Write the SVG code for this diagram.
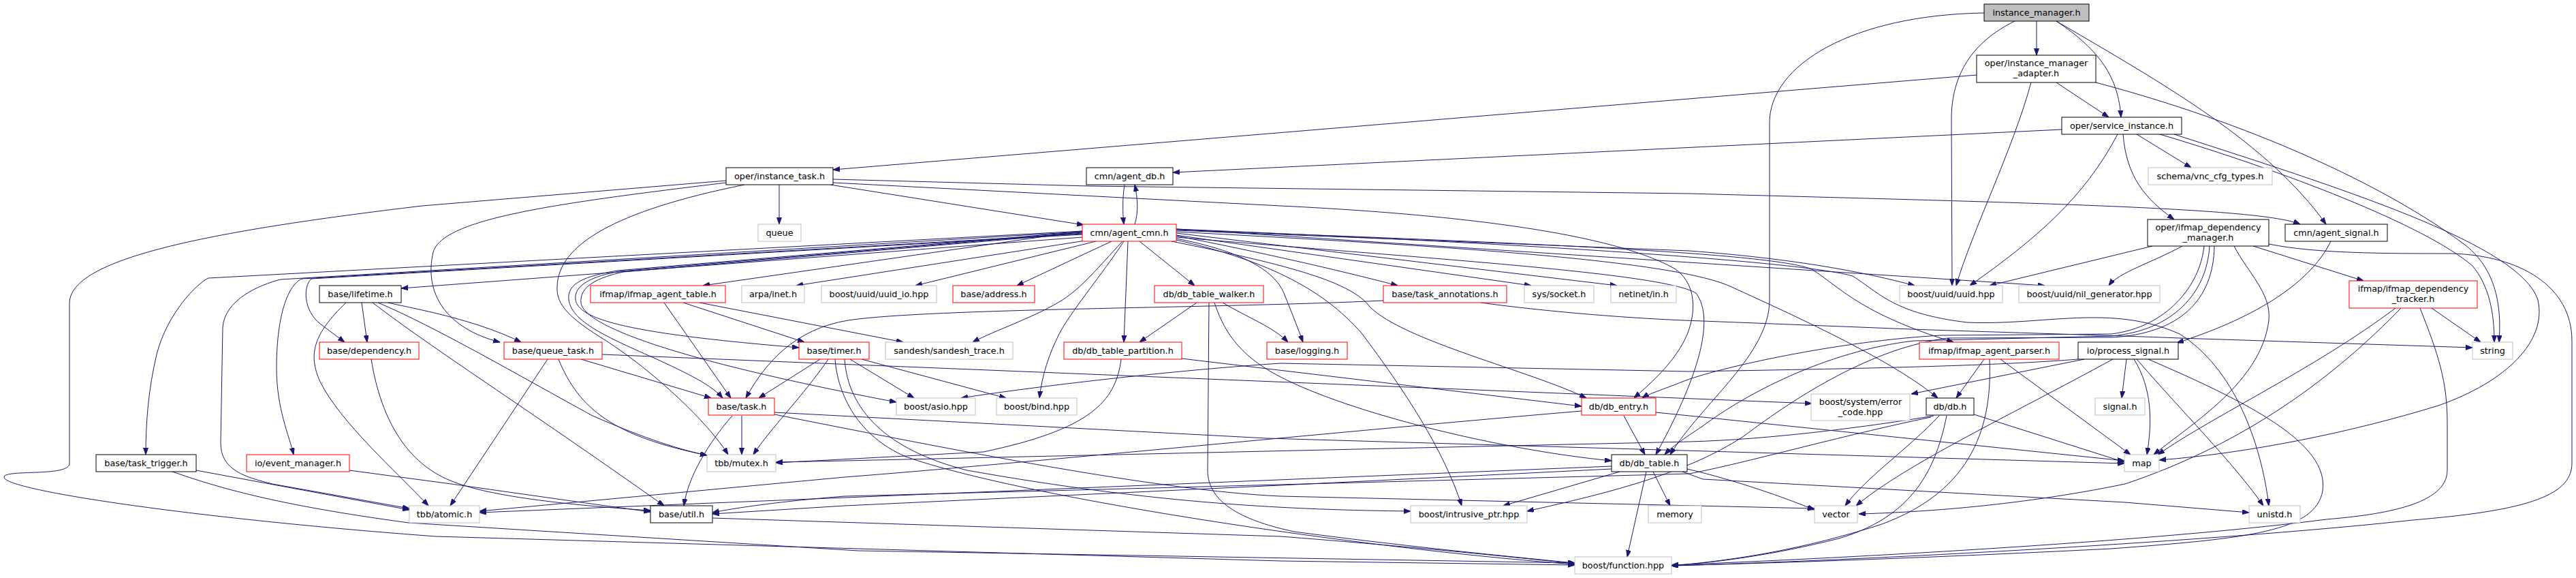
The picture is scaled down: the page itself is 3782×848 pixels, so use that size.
<svg xmlns="http://www.w3.org/2000/svg" width="3782" height="848" viewBox="0 0 3782 848">
<style>
.e{fill:none;stroke:#191970;stroke-width:1;marker-end:url(#a)}
.n rect{fill:#fff;stroke-width:1}
.blk rect{stroke:#000}
.red rect{stroke:#ff0000}
.ext rect{stroke:#bfbfbf}
.root rect{fill:#bfbfbf;stroke:#000}
text{font-family:"DejaVu Sans","Liberation Sans",sans-serif;font-size:12.8px;fill:#000;text-anchor:middle}
</style>
<defs>
<marker id="a" markerWidth="10" markerHeight="8" refX="10" refY="3.5" orient="auto" markerUnits="userSpaceOnUse">
<path d="M0,0 L10,3.5 L0,7 z" fill="#191970" stroke="#191970" stroke-width="1"/>
</marker>
</defs>
<rect width="3782" height="848" fill="#fff"/>
<g id="edges">
<path class="e" d="M2990,31 L2990,81"/>
<path class="e" d="M2958,31 C2895,62 2865,110 2865,175 L2866,419"/>
<path class="e" d="M3019,31 C3085,75 3110,115 3114,172"/>
<path class="e" d="M3019,31 C3180,125 3330,210 3415,329"/>
<path class="e" d="M2913,19 C2720,22 2598,95 2598,180 L2598,440 C2598,520 2500,590 2452,667"/>
<path class="e" d="M2902,110 L1223,249"/>
<path class="e" d="M2982,121 C2955,220 2895,340 2872,419"/>
<path class="e" d="M3019,121 L3096,172"/>
<path class="e" d="M3077,121 C3300,180 3500,270 3620,360 C3670,400 3672,460 3669,502"/>
<path class="e" d="M3027,190 L1722,253"/>
<path class="e" d="M3109,197 C3060,290 2990,350 2892,419"/>
<path class="e" d="M3137,197 L3217,246"/>
<path class="e" d="M3117,197 C3122,260 3150,292 3192,322"/>
<path class="e" d="M3171,197 C3350,250 3560,330 3630,390 C3655,420 3662,460 3662,502"/>
<path class="e" d="M3192,197 C3450,280 3700,360 3726,440 C3740,500 3680,560 3580,595 C3450,635 3300,665 3170,675"/>
<path class="e" d="M1144,271 L1144,329"/>
<path class="e" d="M1219,271 L1591,330"/>
<path class="e" d="M1223,263 L1600,273 L2480,284 C3000,298 3320,305 3377,329"/>
<path class="e" d="M1223,268 L1880,302 C2250,320 2400,360 2460,395 C2495,420 2490,470 2470,505 C2450,540 2420,565 2399,584"/>
<path class="e" d="M1066,268 C820,298 650,320 636,370 C622,430 655,482 734,502"/>
<path class="e" d="M1066,265 L620,302 C300,340 102,380 102,445 L102,680 C102,700 6,688 6,700 C6,720 300,762 640,787 L1880,823 L2312,829"/>
<path class="e" d="M1093,271 C900,310 820,360 818,420 C816,448 838,468 890,500 C960,545 1040,620 1069,667"/>
<path class="e" d="M1651,271 C1648,290 1648,310 1650,329"/>
<path class="e" d="M1666,329 C1672,310 1670,290 1666,271"/>
<path class="e" d="M1589,348 L589,423"/>
<path class="e" d="M1589,339 L306,408 C290,415 245,460 230,520 C218,570 214,620 214,667"/>
<path class="e" d="M1589,343 L443,409 C420,420 406,470 406,540 C406,600 425,640 431,667"/>
<path class="e" d="M1589,340 L412,410 C380,418 330,440 327,480 L324,650 C324,690 360,700 400,710 L601,746"/>
<path class="e" d="M1589,344 L457,409 C445,420 445,455 470,475 L506,502"/>
<path class="e" d="M1589,339 L1032,419"/>
<path class="e" d="M1600,352 L1169,419"/>
<path class="e" d="M1609,354 L1344,419"/>
<path class="e" d="M1632,354 L1493,419"/>
<path class="e" d="M1648,354 C1610,395 1590,420 1560,440 C1520,465 1460,485 1428,502"/>
<path class="e" d="M1650,354 C1620,400 1570,460 1555,490 C1540,520 1530,550 1526,584"/>
<path class="e" d="M1656,354 L1650,502"/>
<path class="e" d="M1673,354 L1754,419"/>
<path class="e" d="M1727,346 C1850,370 1960,395 2052,419"/>
<path class="e" d="M1727,345 L2248,419"/>
<path class="e" d="M1727,342 L2374,419"/>
<path class="e" d="M1727,338 L2480,368 C2640,380 2740,400 2811,419"/>
<path class="e" d="M1727,336 L3002,419"/>
<path class="e" d="M1727,350 C1820,368 1870,395 1885,430 C1897,460 1905,480 1913,502"/>
<path class="e" d="M1727,352 C1850,380 1940,420 2000,490 C2060,570 2120,660 2146,742"/>
<path class="e" d="M1720,354 C1900,390 1985,415 2011,450 C2060,500 2250,545 2329,584"/>
<path class="e" d="M1727,340 C2100,360 2450,380 2540,420 C2650,470 2780,530 2845,584"/>
<path class="e" d="M1727,337 C2200,355 2600,370 2660,395 C2700,420 2730,460 2868,502"/>
<path class="e" d="M1727,336 C2300,360 2650,385 2720,405 C2760,430 2780,460 2888,473 C3000,478 3100,445 3200,490 C3280,540 3320,650 3331,742"/>
<path class="e" d="M1727,348 C2100,380 2440,400 2490,430 C2520,470 2490,560 2431,667"/>
<path class="e" d="M1589,340 L906,397 C860,405 832,415 835,440 C840,470 880,490 960,525 C1010,548 1045,565 1061,584"/>
<path class="e" d="M1589,341 L910,398 C870,405 842,418 845,440 C850,470 930,490 1173,510"/>
<path class="e" d="M1589,342 L915,399 C878,407 850,420 853,445 C860,480 1000,530 1316,590"/>
<path class="e" d="M975,444 L1073,584"/>
<path class="e" d="M1003,444 L1181,502"/>
<path class="e" d="M1027,444 L1326,502"/>
<path class="e" d="M531,444 L539,502"/>
<path class="e" d="M569,444 C620,455 700,470 765,502"/>
<path class="e" d="M555,444 C640,480 760,550 870,610 C950,645 1000,660 1038,668"/>
<path class="e" d="M547,444 C640,515 760,590 975,742"/>
<path class="e" d="M508,444 C460,490 452,520 470,560 C500,620 580,690 629,742"/>
<path class="e" d="M545,527 C560,620 600,680 661,705 C720,730 850,742 955,749"/>
<path class="e" d="M804,527 L661,742"/>
<path class="e" d="M820,527 C850,600 900,640 1038,668"/>
<path class="e" d="M853,527 L1044,584"/>
<path class="e" d="M884,520 L2660,592"/>
<path class="e" d="M1089,610 L1089,667"/>
<path class="e" d="M1075,610 C1040,650 1010,700 1004,742"/>
<path class="e" d="M1137,605 L1860,643 L3119,680"/>
<path class="e" d="M1137,608 C1400,660 1700,720 1880,728 L2664,746"/>
<path class="e" d="M1204,527 L1114,584"/>
<path class="e" d="M1216,527 C1180,580 1130,630 1106,667"/>
<path class="e" d="M1248,527 L1342,584"/>
<path class="e" d="M1265,527 L1477,584"/>
<path class="e" d="M1226,527 C1230,580 1260,640 1330,670 C1500,730 2000,805 2312,828"/>
<path class="e" d="M1240,527 C1245,600 1300,660 1420,690 C1700,740 1900,748 2071,750"/>
<path class="e" d="M1757,444 L1673,502"/>
<path class="e" d="M1795,444 C1830,465 1870,480 1891,502"/>
<path class="e" d="M1775,444 L1773,690 C1773,740 1830,765 1900,780 C2050,800 2200,815 2312,826"/>
<path class="e" d="M1783,444 C1795,480 1815,520 1880,553 C1980,605 2200,660 2366,676"/>
<path class="e" d="M1646,527 C1638,590 1600,630 1444,663 L1139,679"/>
<path class="e" d="M1735,526 L2322,596"/>
<path class="e" d="M2031,441 C1800,452 1400,452 1260,468 C1180,476 1130,520 1095,584"/>
<path class="e" d="M2174,444 C2268,457 2400,468 2500,471 L2806,483 C2950,488 3100,492 3200,496 L3630,510"/>
<path class="e" d="M3160,361 L2921,419"/>
<path class="e" d="M3204,361 C3160,385 3110,400 3096,419"/>
<path class="e" d="M3308,361 L3470,412"/>
<path class="e" d="M3331,358 C3400,372 3500,372 3600,372 C3700,375 3776,420 3776,500 L3776,680 C3776,730 3700,750 3542,763 C3300,790 2800,820 2454,830"/>
<path class="e" d="M3236,361 C3230,420 3180,480 3100,490 L2850,492 C2700,500 2520,540 2470,560 C2440,572 2420,578 2411,584"/>
<path class="e" d="M3244,361 C3240,430 3190,485 3100,493 L2810,500 C2680,515 2560,580 2500,625 C2470,645 2455,655 2444,667"/>
<path class="e" d="M3251,361 C3250,440 3200,490 3100,495 L2860,496 C2750,510 2640,580 2560,640 C2470,700 2330,730 2242,750"/>
<path class="e" d="M3280,361 C3300,400 3335,430 3331,470 C3320,560 3220,620 3162,667"/>
<path class="e" d="M2913,527 L2872,584"/>
<path class="e" d="M2937,527 L3128,667"/>
<path class="e" d="M2921,527 C2925,620 2900,720 2760,770 C2650,805 2550,822 2454,830"/>
<path class="e" d="M3060,527 L2806,578"/>
<path class="e" d="M3122,527 L3115,584"/>
<path class="e" d="M3133,527 C3160,570 3160,620 3152,667"/>
<path class="e" d="M3137,527 C3200,600 3280,680 3323,742"/>
<path class="e" d="M3102,527 C2950,610 2800,680 2725,742"/>
<path class="e" d="M3051,527 C2950,535 2800,540 2480,545 L1880,533 C1700,545 1500,570 1411,584"/>
<path class="e" d="M3154,527 C3300,590 3420,650 3410,720 C3400,780 3300,790 3100,805 C2800,820 2600,826 2454,830"/>
<path class="e" d="M3422,354 C3390,420 3300,470 3196,503"/>
<path class="e" d="M3570,452 L3642,502"/>
<path class="e" d="M3517,452 C3400,540 3250,610 3168,667"/>
<path class="e" d="M3525,452 C3430,550 3300,650 3120,710 C2950,745 2800,752 2729,754"/>
<path class="e" d="M3553,452 C3580,520 3593,560 3593,620 L3593,690 C3593,740 3500,755 3415,762 C3200,790 2800,815 2454,829"/>
<path class="e" d="M2847,610 C2800,660 2740,700 2709,742"/>
<path class="e" d="M2858,610 C2840,700 2800,760 2700,790 C2600,815 2520,825 2454,830"/>
<path class="e" d="M2898,608 L3119,678"/>
<path class="e" d="M2839,610 C2750,625 2600,645 2480,648 L1240,676 L1139,678"/>
<path class="e" d="M2835,612 C2700,640 2560,680 2480,695 L1240,728 C1150,735 1080,745 1046,752"/>
<path class="e" d="M2384,610 L2415,667"/>
<path class="e" d="M2322,603 C2000,630 1500,680 1240,700 L704,750"/>
<path class="e" d="M2431,605 L2500,612 L3119,676"/>
<path class="e" d="M2378,692 L2207,742"/>
<path class="e" d="M2417,692 L2389,817"/>
<path class="e" d="M2427,692 L2452,742"/>
<path class="e" d="M2477,688 C2550,705 2620,730 2664,748"/>
<path class="e" d="M2470,692 L2500,703 L3120,737 L3302,752"/>
<path class="e" d="M2366,684 L704,752"/>
<path class="e" d="M2366,688 L1880,712 L1240,742 L1046,754"/>
<path class="e" d="M288,690 L601,748"/>
<path class="e" d="M253,692 C320,715 400,740 600,767 L1260,808 L2312,826"/>
<path class="e" d="M513,690 L640,707 C700,715 850,737 955,751"/>
<path class="e" d="M1046,760 L1880,787 C2050,800 2200,815 2312,827"/>
</g>
<g id="n_im" class="n root"><rect x="2913" y="6" width="154" height="25"/><text x="2990" y="23">instance_manager.h</text></g>
<g id="n_ad" class="n blk"><rect x="2902" y="81" width="175" height="40"/><text x="2989.5" y="97">oper/instance_manager</text><text x="2989.5" y="112">_adapter.h</text></g>
<g id="n_si" class="n blk"><rect x="3027" y="172" width="176" height="25"/><text x="3115" y="189">oper/service_instance.h</text></g>
<g id="n_sc" class="n ext"><rect x="3154" y="246" width="182" height="25"/><text x="3245" y="263">schema/vnc_cfg_types.h</text></g>
<g id="n_it" class="n blk"><rect x="1066" y="246" width="157" height="25"/><text x="1144.5" y="263">oper/instance_task.h</text></g>
<g id="n_adb" class="n blk"><rect x="1595" y="246" width="127" height="25"/><text x="1658.5" y="263">cmn/agent_db.h</text></g>
<g id="n_q" class="n ext"><rect x="1113" y="329" width="63" height="25"/><text x="1144.5" y="346">queue</text></g>
<g id="n_ac" class="n red"><rect x="1589" y="329" width="138" height="25"/><text x="1658" y="346">cmn/agent_cmn.h</text></g>
<g id="n_idm" class="n blk"><rect x="3153" y="322" width="178" height="39"/><text x="3242" y="338">oper/ifmap_dependency</text><text x="3242" y="353">_manager.h</text></g>
<g id="n_as" class="n blk"><rect x="3355" y="329" width="150" height="25"/><text x="3430" y="346">cmn/agent_signal.h</text></g>
<g id="n_lt" class="n blk"><rect x="469" y="419" width="120" height="25"/><text x="529" y="436">base/lifetime.h</text></g>
<g id="n_iat" class="n red"><rect x="867" y="419" width="198" height="25"/><text x="966" y="436">ifmap/ifmap_agent_table.h</text></g>
<g id="n_inet" class="n ext"><rect x="1089" y="419" width="92" height="25"/><text x="1135" y="436">arpa/inet.h</text></g>
<g id="n_uio" class="n ext"><rect x="1206" y="419" width="169" height="25"/><text x="1290.5" y="436">boost/uuid/uuid_io.hpp</text></g>
<g id="n_addr" class="n red"><rect x="1399" y="419" width="120" height="25"/><text x="1459" y="436">base/address.h</text></g>
<g id="n_dtw" class="n red"><rect x="1695" y="419" width="160" height="25"/><text x="1775" y="436">db/db_table_walker.h</text></g>
<g id="n_ta" class="n red"><rect x="2031" y="419" width="181" height="25"/><text x="2121.5" y="436">base/task_annotations.h</text></g>
<g id="n_sock" class="n ext"><rect x="2238" y="419" width="102" height="25"/><text x="2289" y="436">sys/socket.h</text></g>
<g id="n_nin" class="n ext"><rect x="2365" y="419" width="96" height="25"/><text x="2413" y="436">netinet/in.h</text></g>
<g id="n_uu" class="n ext"><rect x="2789" y="419" width="151" height="25"/><text x="2864.5" y="436">boost/uuid/uuid.hpp</text></g>
<g id="n_nil" class="n ext"><rect x="2964" y="419" width="207" height="25"/><text x="3067.5" y="436">boost/uuid/nil_generator.hpp</text></g>
<g id="n_idt" class="n red"><rect x="3449" y="412" width="188" height="40"/><text x="3543" y="428">ifmap/ifmap_dependency</text><text x="3543" y="443">_tracker.h</text></g>
<g id="n_dep" class="n red"><rect x="469" y="502" width="146" height="25"/><text x="542" y="519">base/dependency.h</text></g>
<g id="n_qt" class="n red"><rect x="740" y="502" width="144" height="25"/><text x="812" y="519">base/queue_task.h</text></g>
<g id="n_tm" class="n red"><rect x="1173" y="502" width="103" height="25"/><text x="1224.5" y="519">base/timer.h</text></g>
<g id="n_st" class="n ext"><rect x="1300" y="502" width="187" height="25"/><text x="1393.5" y="519">sandesh/sandesh_trace.h</text></g>
<g id="n_dtp" class="n red"><rect x="1562" y="502" width="173" height="25"/><text x="1648.5" y="519">db/db_table_partition.h</text></g>
<g id="n_log" class="n red"><rect x="1860" y="502" width="118" height="25"/><text x="1919" y="519">base/logging.h</text></g>
<g id="n_iap" class="n red"><rect x="2818" y="502" width="205" height="25"/><text x="2920.5" y="519">ifmap/ifmap_agent_parser.h</text></g>
<g id="n_ps" class="n blk"><rect x="3051" y="502" width="147" height="25"/><text x="3124.5" y="519">io/process_signal.h</text></g>
<g id="n_str" class="n ext"><rect x="3630" y="502" width="59" height="25"/><text x="3659.5" y="519">string</text></g>
<g id="n_tk" class="n red"><rect x="1040" y="584" width="97" height="25"/><text x="1088.5" y="601">base/task.h</text></g>
<g id="n_asio" class="n ext"><rect x="1316" y="584" width="116" height="25"/><text x="1374" y="601">boost/asio.hpp</text></g>
<g id="n_bind" class="n ext"><rect x="1463" y="584" width="118" height="25"/><text x="1522" y="601">boost/bind.hpp</text></g>
<g id="n_de" class="n red"><rect x="2322" y="584" width="109" height="25"/><text x="2376.5" y="601">db/db_entry.h</text></g>
<g id="n_ec" class="n ext"><rect x="2659" y="578" width="145" height="39"/><text x="2731.5" y="594">boost/system/error</text><text x="2731.5" y="609">_code.hpp</text></g>
<g id="n_db" class="n blk"><rect x="2828" y="584" width="70" height="25"/><text x="2863" y="601">db/db.h</text></g>
<g id="n_sig" class="n ext"><rect x="3076" y="584" width="73" height="25"/><text x="3112.5" y="601">signal.h</text></g>
<g id="n_tt" class="n blk"><rect x="141" y="667" width="147" height="25"/><text x="214.5" y="684">base/task_trigger.h</text></g>
<g id="n_em" class="n red"><rect x="362" y="667" width="151" height="25"/><text x="437.5" y="684">io/event_manager.h</text></g>
<g id="n_mx" class="n ext"><rect x="1038" y="667" width="101" height="25"/><text x="1088.5" y="684">tbb/mutex.h</text></g>
<g id="n_dt" class="n blk"><rect x="2366" y="667" width="111" height="25"/><text x="2421.5" y="684">db/db_table.h</text></g>
<g id="n_map" class="n ext"><rect x="3119" y="667" width="51" height="25"/><text x="3144.5" y="684">map</text></g>
<g id="n_at" class="n ext"><rect x="601" y="742" width="103" height="25"/><text x="652.5" y="759">tbb/atomic.h</text></g>
<g id="n_ut" class="n blk"><rect x="955" y="742" width="91" height="25"/><text x="1000.5" y="759">base/util.h</text></g>
<g id="n_ip" class="n ext"><rect x="2071" y="742" width="171" height="25"/><text x="2156.5" y="759">boost/intrusive_ptr.hpp</text></g>
<g id="n_mem" class="n ext"><rect x="2420" y="742" width="78" height="25"/><text x="2459" y="759">memory</text></g>
<g id="n_vec" class="n ext"><rect x="2664" y="742" width="63" height="25"/><text x="2695.5" y="759">vector</text></g>
<g id="n_uni" class="n ext"><rect x="3302" y="742" width="75" height="25"/><text x="3339.5" y="759">unistd.h</text></g>
<g id="n_fn" class="n ext"><rect x="2312" y="817" width="142" height="25"/><text x="2383" y="834">boost/function.hpp</text></g>
</svg>
